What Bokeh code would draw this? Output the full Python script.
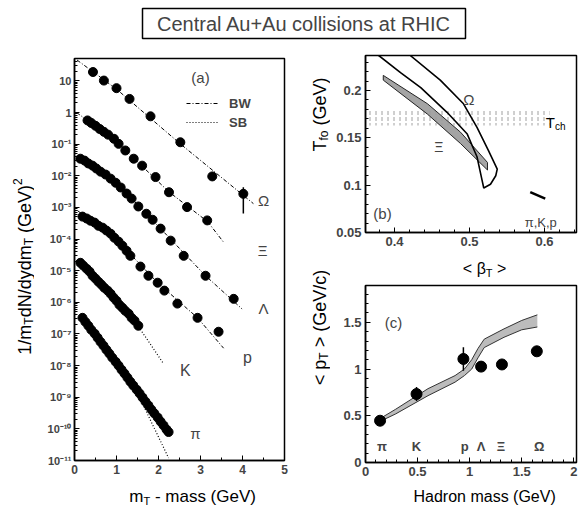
import math
import numpy as np
from bokeh.plotting import figure
from bokeh.models import (Range1d, Label, FixedTicker, CustomJSTickFormatter,
                          Legend, LegendItem)
from bokeh.layouts import column, row
from bokeh.embed import file_html
from bokeh.resources import INLINE

FONT = "Liberation Sans"
NB = "\u00a0"

# ---------------- panel (a): spectra, x = mT - mass (GeV), y = log10(1/mT dN/dy dmT)
OMEGA_X = [0.44, 0.70, 1.00, 1.31, 1.81, 2.52, 3.28, 4.02]
OMEGA_LOG = [1.28, 1.01, 0.77, 0.43, -0.12, -0.94, -2.02, -2.57]
OMEGA_ERR_LOG = [-3.19, -2.36]          # error bar on last Omega point

XI_X = [0.31, 0.40, 0.50, 0.60, 0.70, 0.80, 0.94, 1.05, 1.21, 1.41, 1.61, 1.93, 2.25, 2.68, 3.16]
XI_LOG = [-0.25, -0.33, -0.42, -0.52, -0.61, -0.70, -0.83, -0.99, -1.20, -1.46, -1.68, -2.04,
          -2.52, -2.99, -3.41]

LAMBDA_X = [0.14, 0.24, 0.33, 0.43, 0.52, 0.62, 0.74, 0.86, 0.98, 1.10, 1.24, 1.36, 1.52,
            1.71, 1.86, 2.05, 2.29, 2.60, 3.12, 3.79]
LAMBDA_LOG = [-1.46, -1.52, -1.61, -1.68, -1.77, -1.87, -1.96, -2.09, -2.22, -2.37, -2.56,
              -2.72, -2.97, -3.20, -3.39, -3.67, -4.05, -4.53, -5.16, -5.89]

P_X = [0.19, 0.29, 0.38, 0.48, 0.57, 0.67, 0.76, 0.86, 0.95, 1.05, 1.14, 1.24, 1.33, 1.57,
       1.76, 1.98, 2.14, 2.45, 2.93, 3.43]
P_LOG = [-3.29, -3.35, -3.42, -3.48, -3.58, -3.64, -3.73, -3.83, -3.96, -4.08, -4.21, -4.37,
         -4.53, -4.87, -5.16, -5.38, -5.63, -6.04, -6.49, -6.93]

K_X = [0.14, 0.21, 0.29, 0.36, 0.43, 0.50, 0.57, 0.64, 0.71, 0.79, 0.86, 0.93, 1.00, 1.07,
       1.14, 1.21, 1.29, 1.36, 1.43, 1.52]
K_LOG = [-4.75, -4.84, -4.94, -5.03, -5.16, -5.25, -5.35, -5.44, -5.54, -5.63, -5.73, -5.85,
         -5.95, -6.08, -6.17, -6.27, -6.36, -6.49, -6.58, -6.74]

PI_X = [0.19, 0.26, 0.33, 0.40, 0.48, 0.55, 0.62, 0.69, 0.76, 0.83, 0.90, 0.98, 1.05, 1.12,
        1.19, 1.26, 1.33, 1.40, 1.48, 1.55, 1.62, 1.69, 1.76, 1.83, 1.90, 1.98, 2.05, 2.12,
        2.19, 2.24]
PI_LOG = [-6.49, -6.62, -6.74, -6.87, -6.99, -7.12, -7.25, -7.37, -7.50, -7.62, -7.75, -7.88,
          -8.00, -8.13, -8.25, -8.38, -8.51, -8.63, -8.76, -8.88, -9.01, -9.14, -9.26, -9.39,
          -9.51, -9.64, -9.77, -9.89, -10.02, -10.10]

# fit curves (BW / SB)
OMEGA_FIT_X = [0.06, 1.00, 2.50, 4.26]
OMEGA_FIT_LOG = [1.66, 0.74, -0.97, -2.88]
XI_FIT_X = [0.05, 1.05, 2.24, 3.17, 3.55]
XI_FIT_LOG = [0.00, -0.98, -2.50, -3.45, -4.10]
LAMBDA_FIT_X = [0.05, 1.00, 2.05, 3.12, 3.99]
LAMBDA_FIT_LOG = [-1.38, -2.22, -3.67, -5.16, -6.21]
P_FIT_X = [0.07, 1.00, 1.98, 2.93, 3.55]
P_FIT_LOG = [-3.10, -4.02, -5.38, -6.49, -7.45]
K_FIT_X = [0.10, 0.86, 1.52, 2.12]
K_FIT_LOG = [-4.65, -5.73, -6.76, -7.94]
PI_FIT_X = [0.15, 1.00, 1.60, 2.24]
PI_FIT_LOG = [-6.40, -7.95, -9.15, -10.92]

A_X_TICKS = [0, 1, 2, 3, 4, 5]
A_Y_EXPONENTS = list(range(-11, 2))
A_Y_TICK_LABELS = ["10⁻¹¹", "10⁻¹⁰", "10⁻⁹", "10⁻⁸", "10⁻⁷", "10⁻⁶", "10⁻⁵", "10⁻⁴",
                   "10⁻³", "10⁻²", "10⁻¹", "1", "10"]

# ---------------- panel (b): T_fo vs <beta_T>
OMEGA_CONTOUR_BETA = [0.358, 0.379, 0.408, 0.435, 0.470, 0.497, 0.510, 0.516, 0.519,
                      0.528, 0.535, 0.537, 0.525, 0.510, 0.492, 0.461, 0.421, 0.401]
OMEGA_CONTOUR_T = [0.250, 0.237, 0.219, 0.203, 0.177, 0.154, 0.130, 0.108, 0.097,
                   0.101, 0.110, 0.117, 0.137, 0.161, 0.186, 0.211, 0.237, 0.250]
XI_BAND_BETA = [0.385, 0.444, 0.488, 0.524, 0.524, 0.488, 0.444, 0.385]
XI_BAND_T = [0.216, 0.186, 0.156, 0.124, 0.116, 0.144, 0.175, 0.211]
TCH_BETA = [0.3613, 0.607]
TCH_LOW = [0.163, 0.163]
TCH_HIGH = [0.180, 0.180]
PIKP_BETA = [0.581, 0.601]
PIKP_T = [0.0927, 0.0857]
B_X_TICKS = [0.4, 0.5, 0.6]
B_Y_TICKS = [0.05, 0.1, 0.15, 0.2]

# ---------------- panel (c): <pT> vs hadron mass
C_NAMES = ["π", "K", "p", "Λ", "Ξ", "Ω"]
C_MASS = [0.14, 0.49, 0.94, 1.11, 1.31, 1.645]
C_PT = [0.447, 0.733, 1.108, 1.026, 1.049, 1.19]
C_ERR = [0.0, 0.075, 0.125, 0.0, 0.0, 0.0]
C_BAND_MASS = [0.14, 0.29, 0.60, 0.86, 0.95, 1.02, 1.08, 1.14, 1.33, 1.50, 1.65]
C_BAND_LOW = [0.44, 0.52, 0.715, 0.86, 0.93, 1.00, 1.12, 1.23, 1.34, 1.42, 1.45]
C_BAND_HIGH = [0.47, 0.57, 0.79, 0.93, 1.00, 1.10, 1.22, 1.32, 1.43, 1.52, 1.58]
C_X_TICKS = [0, 0.5, 1, 1.5, 2]
C_Y_TICKS = [0, 0.5, 1, 1.5]

# ---------------- helpers
CW = {'1': 556, '/': 278, 'm': 833, 'T': 611, 'd': 556, 'N': 722, 'y': 500, ' ': 278,
      NB: 278, '(': 333, 'G': 778, 'e': 556, 'V': 667, ')': 333, '2': 556, '-': 333,
      'a': 556, 's': 500, 'f': 278, 'o': 556, '<': 584, '>': 584, 'p': 556, 'c': 500,
      'H': 722, 'r': 333, 'n': 556, 'β': 575, 'h': 556}


def text_w(t, size):
    return sum(CW.get(ch, 556) for ch in t) * size / 1000.0


def rich(p, x, y, pieces, vertical=False):
    widths = [text_w(t, s) for t, s, _ in pieces]
    cur = -sum(widths) / 2.0
    for (t, s, sh), w in zip(pieces, widths):
        kw = dict(x=x, y=y, text=t, text_font=FONT, text_font_size=f"{s}px",
                  text_color="black", text_align="left", text_baseline="alphabetic")
        if vertical:
            kw.update(angle=math.pi / 2, x_offset=-sh, y_offset=cur)
        else:
            kw.update(x_offset=cur, y_offset=sh)
        p.add_layout(Label(**kw))
        cur += w


def label(p, x, y, text, size=15, style="normal"):
    p.add_layout(Label(x=x, y=y, text=text, text_font=FONT, text_font_size=f"{size}px",
                       text_font_style=style, text_align="center", text_baseline="middle"))


def make_fig(w, h, xr, yr, l, r, t, b, y_log=False):
    p = figure(width=w, height=h, x_range=Range1d(*xr), y_range=Range1d(*yr),
               y_axis_type="log" if y_log else "linear",
               output_backend="svg", toolbar_location=None,
               min_border_left=l, min_border_right=r, min_border_top=t, min_border_bottom=b)
    p.grid.visible = False
    p.outline_line_color = "black"
    p.outline_line_width = 1.5
    p.background_fill_color = "white"
    p.border_fill_color = "white"
    for ax in p.axis:
        ax.axis_line_width = 1.5
        ax.major_tick_in = 5
        ax.major_tick_out = 0
        ax.minor_tick_in = 3
        ax.minor_tick_out = 0
        ax.major_label_text_font = FONT
        ax.major_label_text_font_size = "13px"
        ax.major_label_text_font_style = "bold"
        ax.major_label_standoff = 4
    return p


def helper(x0, y0, w, h):
    """A blank strip whose data coordinates are the page pixels it covers."""
    p = figure(width=w, height=h, x_range=Range1d(x0, x0 + w), y_range=Range1d(y0 + h, y0),
               x_axis_location=None, y_axis_location=None, output_backend="svg",
               toolbar_location=None, min_border_left=0, min_border_right=0,
               min_border_top=0, min_border_bottom=0)
    p.grid.visible = False
    p.outline_line_color = None
    p.background_fill_color = "white"
    p.border_fill_color = "white"
    return p


def lg(v):
    return 10.0 ** np.asarray(v, dtype=float)


# ---------------- title
pt = figure(width=578, height=45, x_range=Range1d(0, 1), y_range=Range1d(0, 1),
            x_axis_location=None, y_axis_location=None, output_backend="svg",
            toolbar_location=None, min_border_left=142, min_border_right=113,
            min_border_top=8, min_border_bottom=7)
pt.grid.visible = False
pt.outline_line_color = "black"
pt.outline_line_width = 1.5
pt.add_layout(Label(x=0.5, y=0.5, text="Central Au+Au collisions at RHIC", text_font=FONT,
                    text_font_size="20px", text_align="center", text_baseline="middle"))

# ---------------- panel (a)
pa = make_fig(256, 435, (0, 5), (1e-11, 51), 40, 6, 13, 20, y_log=True)
pa.xaxis.ticker = FixedTicker(ticks=A_X_TICKS, minor_ticks=[0.5, 1.5, 2.5, 3.5, 4.5])
pa.yaxis.ticker = FixedTicker(ticks=[10.0 ** e for e in A_Y_EXPONENTS],
                              minor_ticks=[m * 10.0 ** e for e in range(-11, 2) for m in range(2, 10)])
pa.yaxis.formatter = CustomJSTickFormatter(
    args=dict(exps=A_Y_EXPONENTS, labels=A_Y_TICK_LABELS),
    code="const e = Math.round(Math.log10(tick)); const i = exps.indexOf(e); return i >= 0 ? labels[i] : '';")
pa.yaxis.major_label_text_font_size = "11px"
pa.yaxis.major_label_standoff = 3
pa.xaxis.major_label_text_font_size = "12px"

BW_DASH = "4 2 1 2"
SB_DASH = "1 2"
r_bw = None
for fx, fy in [(OMEGA_FIT_X, OMEGA_FIT_LOG), (XI_FIT_X, XI_FIT_LOG),
               (LAMBDA_FIT_X, LAMBDA_FIT_LOG), (P_FIT_X, P_FIT_LOG)]:
    rr = pa.line(fx, lg(fy), line_color="black", line_width=1, line_dash=BW_DASH)
    r_bw = r_bw or rr
r_sb = None
for fx, fy in [(K_FIT_X, K_FIT_LOG), (PI_FIT_X, PI_FIT_LOG)]:
    rr = pa.line(fx, lg(fy), line_color="black", line_width=1.2, line_dash=SB_DASH)
    r_sb = r_sb or rr

for sx, sy in [(OMEGA_X, OMEGA_LOG), (XI_X, XI_LOG), (LAMBDA_X, LAMBDA_LOG), (P_X, P_LOG),
               (K_X, K_LOG), (PI_X, PI_LOG)]:
    pa.scatter(sx, lg(sy), size=9, marker="circle", fill_color="black", line_color="black")
pa.segment(x0=[OMEGA_X[-1]], y0=lg([OMEGA_ERR_LOG[0]]), x1=[OMEGA_X[-1]], y1=lg([OMEGA_ERR_LOG[1]]),
           line_color="black", line_width=1.5)

legend = Legend(items=[LegendItem(label="BW", renderers=[r_bw]),
                       LegendItem(label="SB", renderers=[r_sb])],
                location=(112, 330), orientation="vertical", label_text_font=FONT,
                label_text_font_size="13px", label_text_font_style="bold",
                glyph_width=33, glyph_height=16, label_height=16, spacing=3, padding=0,
                margin=0, border_line_alpha=0, background_fill_alpha=0, label_standoff=10)
pa.add_layout(legend)

label(pa, 3.0, 10 ** 1.106, "(a)", 15)
label(pa, 4.50, 10 ** -2.78, "Ω", 15)
label(pa, 4.48, 10 ** -4.36, "Ξ", 15)
label(pa, 4.50, 10 ** -6.19, "Λ", 15)
label(pa, 4.12, 10 ** -7.74, "p", 16)
label(pa, 2.64, 10 ** -8.15, "K", 16)
label(pa, 2.88, 10 ** -10.15, "π", 15)

# axis-title strips for panel (a)   (coordinates = page pixels)
ha = helper(0, 45, 34, 460)
rich(ha, 24, 266,
     [("1/m", 18, 0), ("T", 12, -4), ("dN/dydm", 18, 0), ("T", 12, -4), (NB + "(GeV)", 18, 0),
      ("2", 12, 7)], vertical=True)
hax = helper(34, 480, 256, 25)
rich(hax, 178, 496, [("m", 17, 0), ("T", 11, -4), (NB + "-" + NB + "mass" + NB + "(GeV)", 17, 0)])

# ---------------- panel (b)
pb = make_fig(248, 206, (0.3613, 0.6427), (0.05, 0.237), 35, 2, 10, 19)
pb.xaxis.ticker = FixedTicker(ticks=B_X_TICKS, minor_ticks=[0.38, 0.42, 0.44, 0.46, 0.48, 0.52, 0.54, 0.56, 0.58, 0.62, 0.64])
pb.yaxis.ticker = FixedTicker(ticks=B_Y_TICKS, minor_ticks=[0.06, 0.07, 0.08, 0.09, 0.11, 0.12, 0.13, 0.14, 0.16, 0.17, 0.18, 0.19, 0.21, 0.22, 0.23])
pb.yaxis.formatter = CustomJSTickFormatter(code="return String(Math.round(tick*100)/100);")
pb.xaxis.formatter = CustomJSTickFormatter(code="return String(Math.round(tick*10)/10);")

pb.varea(x=TCH_BETA, y1=TCH_LOW, y2=TCH_HIGH, fill_alpha=0, hatch_pattern="vertical_dash",
         hatch_color="#a0a0a0", hatch_scale=6, hatch_weight=1)
pb.patch(XI_BAND_BETA, XI_BAND_T, fill_color="#9a9a9a", fill_alpha=0.9, line_color="#222222",
         line_width=1)
pb.patch(OMEGA_CONTOUR_BETA, OMEGA_CONTOUR_T, fill_alpha=0, line_color="black", line_width=1.6)
pb.line(PIKP_BETA, PIKP_T, line_color="black", line_width=2.5)

label(pb, 0.499, 0.191, "Ω", 15)
label(pb, 0.459, 0.140, "Ξ", 14)
label(pb, 0.384, 0.070, "(b)", 15)
label(pb, 0.595, 0.061, "π,K,p", 13)
rich(pb, 0.615, 0.1667, [("T", 15, 0), ("ch", 10, -4)])

# ---------------- panel (c)
pc = make_fig(248, 204, (0, 2.026), (0, 1.894), 34, 2, 8, 19)
pc.xaxis.ticker = FixedTicker(ticks=C_X_TICKS, minor_ticks=[i / 10 for i in range(1, 21) if i % 5])
pc.yaxis.ticker = FixedTicker(ticks=C_Y_TICKS, minor_ticks=[i / 10 for i in range(1, 19) if i % 5])
pc.xaxis.formatter = CustomJSTickFormatter(code="return String(Math.round(tick*10)/10);")
pc.yaxis.formatter = CustomJSTickFormatter(code="return String(Math.round(tick*10)/10);")

pc.varea(x=C_BAND_MASS, y1=C_BAND_LOW, y2=C_BAND_HIGH, fill_color="#b5b5b5", fill_alpha=0.9)
pc.line(C_BAND_MASS, C_BAND_LOW, line_color="#333333", line_width=1)
pc.line(C_BAND_MASS, C_BAND_HIGH, line_color="#333333", line_width=1)
cm = np.array(C_MASS)
cp = np.array(C_PT)
ce = np.array(C_ERR)
pc.segment(x0=cm, y0=cp - ce, x1=cm, y1=cp + ce, line_color="black", line_width=1.5)
pc.scatter(C_MASS, C_PT, size=11, marker="circle", fill_color="black", line_color="black")

for name, xm in zip(C_NAMES, [0.159, 0.49, 0.952, 1.11, 1.30, 1.667]):
    label(pc, xm, 0.17, name, 13, "bold")
label(pc, 0.27, 1.50, "(c)", 15)

# axis-title strips for panels (b) and (c)
hbc = helper(290, 45, 40, 460)
rich(hbc, 319, 114, [("T", 18, 0), ("fo", 12, -4), (NB + "(GeV)", 18, 0)], vertical=True)
rich(hbc, 319, 327, [("<" + NB + "p", 18, 0), ("T", 12, -4), (NB + ">" + NB + "(GeV/c)", 18, 0)],
     vertical=True)
hbx = helper(330, 251, 248, 26)
rich(hbx, 470, 268, [("<" + NB + "β", 16, 0), ("T", 11, -4), (NB + ">", 16, 0)])
hcx = helper(330, 481, 248, 24)
rich(hcx, 470, 496, [("Hadron" + NB + "mass" + NB + "(GeV)", 16, 0)])

layout = column(
    pt,
    row(ha, column(pa, hax, spacing=0), hbc, column(pb, hbx, pc, hcx, spacing=0), spacing=0),
    spacing=0)
open("out.html", "w").write(file_html(layout, INLINE))
